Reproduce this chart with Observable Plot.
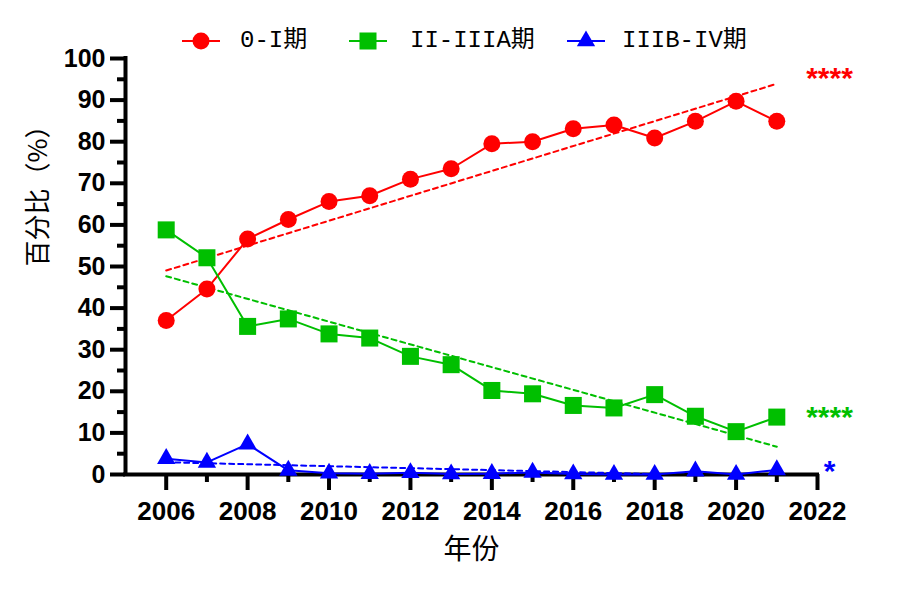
<!DOCTYPE html>
<html>
<head>
<meta charset="utf-8">
<script src="https://cdn.jsdelivr.net/npm/d3@7"></script>
<script src="https://cdn.jsdelivr.net/npm/@observablehq/plot@0.6"></script>
<style>
  html, body { margin: 0; padding: 0; background: #fff; }
  #wrap { position: relative; width: 900px; height: 592px; }
  .leg { position: absolute; top: 26px; height: 30px; }
  .legtxt { position: absolute; top: 26px; height: 30px; line-height: 30px;
    font-family: "Liberation Mono", "Noto Sans CJK SC", monospace; font-size: 24px; color: #000; white-space: nowrap; }
</style>
</head>
<body>
<div id="wrap"></div>
<script>
// ---- data ----
const years = [2006, 2007, 2008, 2009, 2010, 2011, 2012, 2013, 2014, 2015, 2016, 2017, 2018, 2019, 2020, 2021];
const stageNames = ["0-I期", "II-IIIA期", "IIIB-IV期"];
const stageI   = [37.0, 44.6, 56.6, 61.3, 65.6, 67.0, 71.0, 73.5, 79.5, 80.0, 83.1, 84.0, 80.9, 84.9, 89.7, 84.9];
const stageII  = [58.8, 52.1, 35.6, 37.4, 33.8, 32.8, 28.4, 26.4, 20.2, 19.4, 16.6, 16.0, 19.2, 14.0, 10.3, 13.8];
const stageIII = [3.8, 2.9, 7.3, 1.0, 0.3, 0.2, 0.4, 0.1, 0.2, 0.5, 0.1, 0.0, 0.0, 0.8, 0.0, 1.1];
const sigLabels = ["****", "****", "*"];
const sigY = [95.2, 13.8, 0.8];
const yTicks = [0, 10, 20, 30, 40, 50, 60, 70, 80, 90, 100];
const yMinorTicks = [5, 15, 25, 35, 45, 55, 65, 75, 85, 95];
const xTicks = [2006, 2008, 2010, 2012, 2014, 2016, 2018, 2020, 2022];
const xMinorTicks = [2007, 2009, 2011, 2013, 2015, 2017, 2019, 2021];
const yTitle = "百分比（%）";
const xTitle = "年份";

// ---- styles ----
const colors = ["#ff0000", "#00bf00", "#0000ff"];
const symbols = ["circle", "square", "triangle"];
const symbolR = [8.5, 9.6, 6.8];
const legendLineLeft = [182, 349, 567];
const legendTextLeft = [240, 410, 622];

const series = [stageI, stageII, stageIII];
const rows = series.flatMap((vals, i) => years.map((yr, j) => ({year: yr, value: vals[j], stage: stageNames[i]})));
const sig = stageNames.map((s, i) => ({stage: s, label: sigLabels[i], x: 2022, y: sigY[i]}));

const colorScale = {domain: stageNames, range: colors};

const marks = [
  Plot.axisY({ticks: yTicks, tickSize: 15, tickPadding: 5, strokeWidth: 4, label: null,
    fontSize: 25, fontWeight: "bold", fontFamily: "Liberation Sans, Arial, sans-serif"}),
  Plot.axisY({ticks: yMinorTicks, tickSize: 8, strokeWidth: 4, text: null, label: null}),
  Plot.axisX({ticks: xTicks, tickSize: 16, tickPadding: 11, strokeWidth: 4, label: null, tickFormat: d => String(d),
    fontSize: 26, fontWeight: "bold", fontFamily: "Liberation Sans, Arial, sans-serif"}),
  Plot.axisX({ticks: xMinorTicks, tickSize: 8, strokeWidth: 4, text: null, label: null}),
  Plot.ruleY([0], {strokeWidth: 4, strokeLinecap: "square"}),
  Plot.ruleX([2005], {y1: 0, y2: 100, strokeWidth: 4, strokeLinecap: "square"}),
  Plot.linearRegressionY(rows, {x: "year", y: "value", stroke: "stage", ci: 0, strokeWidth: 2, strokeDasharray: "5,4", clip: true}),
  Plot.line(rows, {x: "year", y: "value", stroke: "stage", strokeWidth: 2}),
  ...stageNames.map((s, i) => Plot.dot(rows.filter(d => d.stage === s),
      {x: "year", y: "value", symbol: () => symbols[i], r: symbolR[i], fill: colors[i], stroke: null})),
  Plot.text(sig, {x: "x", y: "y", text: "label", fill: "stage", dx: 12, textAnchor: "middle",
    fontSize: 30, fontWeight: "bold", fontFamily: "Liberation Sans, Arial, sans-serif"}),
  Plot.text([yTitle], {frameAnchor: "left", dx: -87, rotate: -90, text: d => d, fontSize: 26,
    fontFamily: "Noto Sans CJK SC, sans-serif", fill: "#000"}),
  Plot.text([xTitle], {frameAnchor: "bottom", dy: 84, text: d => d, fontSize: 28,
    fontFamily: "Noto Sans CJK SC, sans-serif", fill: "#000"})
];

const chart = Plot.plot({
  width: 900, height: 592,
  marginLeft: 125, marginRight: 83, marginTop: 58, marginBottom: 118,
  x: {domain: [2005, 2022]},
  y: {domain: [0, 100]},
  color: colorScale,
  symbol: {domain: symbols, range: symbols},
  style: {background: "#fff", color: "#000", overflow: "visible"},
  marks
});
const wrap = document.getElementById("wrap");
wrap.appendChild(chart);

// ---- legend ----
const symMap = {circle: d3.symbolCircle, square: d3.symbolSquare, triangle: d3.symbolTriangle};
stageNames.forEach((s, i) => {
  const div = document.createElement("div");
  div.className = "leg";
  div.style.left = legendLineLeft[i] + "px";
  const svg = d3.create("svg").attr("width", 40).attr("height", 30);
  svg.append("line").attr("x1", 0).attr("x2", 38).attr("y1", 15).attr("y2", 15)
    .attr("stroke", colors[i]).attr("stroke-width", 2);
  svg.append("path").attr("transform", "translate(19,15)")
    .attr("d", d3.symbol(symMap[symbols[i]], Math.PI * symbolR[i] * symbolR[i])())
    .attr("fill", colors[i]);
  div.appendChild(svg.node());
  wrap.appendChild(div);
  const t = document.createElement("div");
  t.className = "legtxt";
  t.style.left = legendTextLeft[i] + "px";
  t.textContent = s;
  wrap.appendChild(t);
});
</script>
</body>
</html>
